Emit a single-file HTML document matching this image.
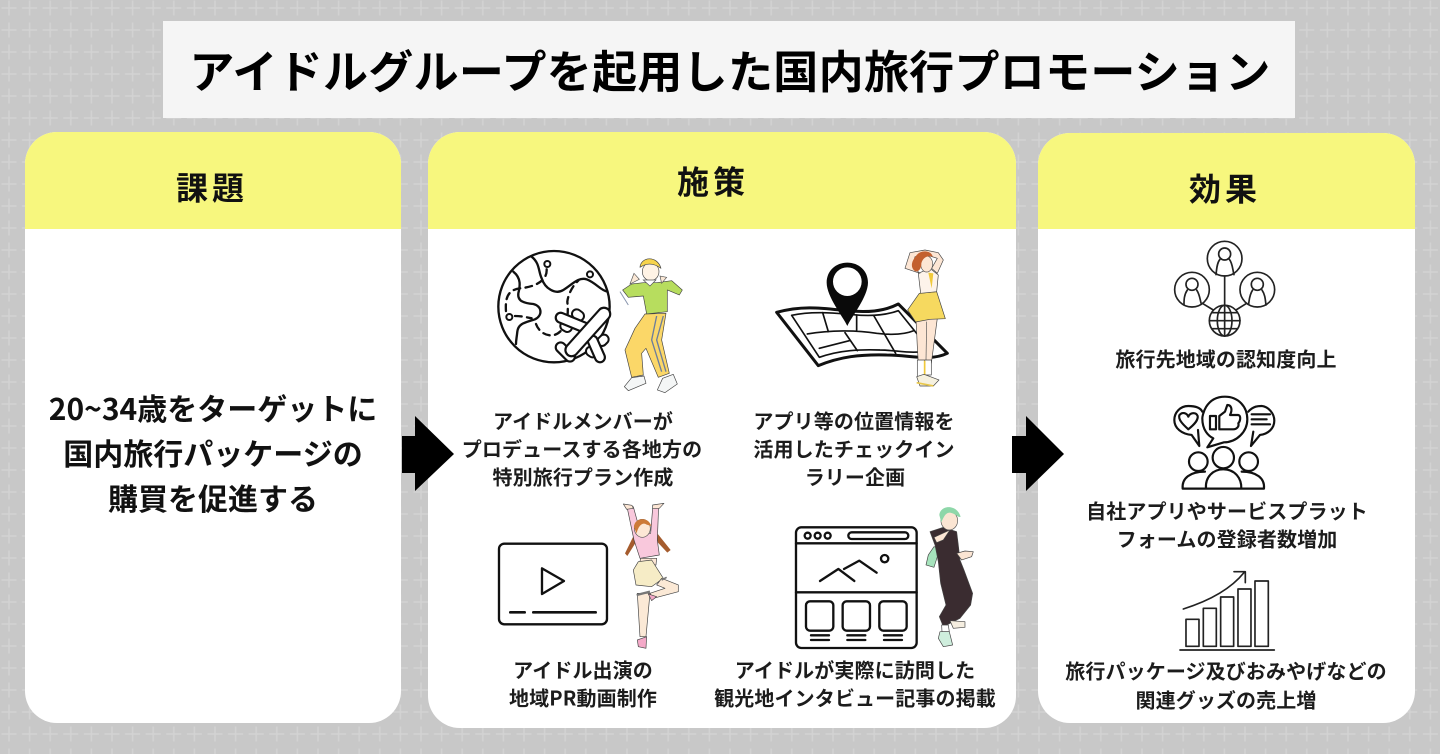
<!DOCTYPE html>
<html lang="ja"><head><meta charset="utf-8"><title>アイドルグループを起用した国内旅行プロモーション</title>
<style>
html,body{margin:0;padding:0;background:#c8c8c8}
svg{display:block;filter:blur(.35px)}
text{font-family:"Liberation Sans","Noto Sans CJK JP",sans-serif;font-weight:700;text-anchor:middle;dominant-baseline:central;fill:#111}
.jp{font-family:"Noto Sans CJK JP","Liberation Sans",sans-serif}
.s{font-size:20px;fill:#1c1c1c;letter-spacing:.12px}
.i{fill:none;stroke:#111;stroke-width:7;stroke-linecap:round;stroke-linejoin:round}
.t{fill:none;stroke:#222;stroke-width:5;stroke-linecap:round;stroke-linejoin:round}
.p{stroke:#444;stroke-width:2;stroke-linejoin:round}
.bk{fill:none;stroke:#111;stroke-linecap:round}
.wh{fill:none;stroke:#fff;stroke-linecap:round}
</style></head><body>
<svg width="1440" height="754" viewBox="0 0 1440 754" xmlns="http://www.w3.org/2000/svg">
<defs>
<pattern id="g" width="20.6" height="22" patternUnits="userSpaceOnUse" patternTransform="translate(-1.3 -3)">
<path d="M2.8 11H17.8M10.3 3.5V18.5" stroke="#d3d3d3" stroke-width="1.4"/>
</pattern>
<clipPath id="c1"><rect x="25" y="132" width="376" height="591" rx="32"/></clipPath>
<clipPath id="c2"><rect x="428" y="132" width="588" height="596" rx="32"/></clipPath>
<clipPath id="c3"><rect x="1038" y="133" width="377" height="590" rx="32"/></clipPath>
</defs>
<rect width="1440" height="754" fill="#c8c8c8"/>
<rect width="1440" height="754" fill="url(#g)"/>

<rect x="163" y="21" width="1132" height="97" fill="#f5f5f5"/>
<text class="jp" x="730" y="68.5" font-size="45" letter-spacing=".3" style="fill:#000">アイドルグループを起用した国内旅行プロモーション</text>

<!-- panels -->
<g clip-path="url(#c1)"><rect x="25" y="132" width="376" height="591" fill="#fff"/><rect x="25" y="132" width="376" height="97" fill="#f7f77e"/></g>
<g clip-path="url(#c2)"><rect x="428" y="132" width="588" height="596" fill="#fff"/><rect x="428" y="132" width="588" height="97" fill="#f7f77e"/></g>
<g clip-path="url(#c3)"><rect x="1038" y="133" width="377" height="590" fill="#fff"/><rect x="1038" y="133" width="377" height="96" fill="#f7f77e"/></g>

<text class="jp" x="212" y="186.5" font-size="32" letter-spacing="4">課題</text>
<text class="jp" x="713" y="180.5" font-size="32" letter-spacing="4">施策</text>
<text class="jp" x="1225" y="187.5" font-size="32" letter-spacing="4">効果</text>

<text class="jp" x="213" y="407" font-size="30">20~34歳をターゲットに</text>
<text class="jp" x="213" y="452" font-size="30">国内旅行パッケージの</text>
<text class="jp" x="213" y="497" font-size="30">購買を促進する</text>

<!-- arrows -->
<path d="M402 436H415V416L454 454L415 491V473H402Z" fill="#000"/>
<path d="M1012 436H1026V416L1064 454L1026 491V473H1012Z" fill="#000"/>

<!-- labels -->
<g>
<text class="s jp" x="583" y="420">アイドルメンバーが</text>
<text class="s jp" x="582" y="448">プロデュースする各地方の</text>
<text class="s jp" x="583" y="476">特別旅行プラン作成</text>
<text class="s jp" x="854" y="420">アプリ等の位置情報を</text>
<text class="s jp" x="854" y="448">活用したチェックイン</text>
<text class="s jp" x="855" y="476">ラリー企画</text>
<text class="s jp" x="583" y="669">アイドル出演の</text>
<text class="s jp" x="583" y="697">地域PR動画制作</text>
<text class="s jp" x="855" y="669">アイドルが実際に訪問した</text>
<text class="s jp" x="855" y="697">観光地インタビュー記事の掲載</text>
<text class="s jp" x="1226" y="358">旅行先地域の認知度向上</text>
<text class="s jp" x="1227" y="510">自社アプリやサービスプラット</text>
<text class="s jp" x="1227" y="538">フォームの登録者数増加</text>
<text class="s jp" x="1226" y="670">旅行パッケージ及びおみやげなどの</text>
<text class="s jp" x="1226" y="699">関連グッズの売上増</text>
</g>

<!-- globe + person 1 -->
<g transform="translate(430 240) scale(.3333)">
<circle class="i" cx="372" cy="200" r="167"/>
<path class="i" d="M305 50C330 70 325 95 335 115C345 145 375 165 400 150C425 135 445 110 470 118C500 130 510 150 532 155"/>
<path class="i" d="M250 95C275 115 270 140 265 160C262 185 285 190 310 192C335 198 340 225 315 238C285 248 265 250 262 275C260 295 258 300 258 312"/>
<path class="i" stroke-dasharray="20 16" d="M350 88C352 120 320 140 270 145C235 150 225 170 228 215"/>
<path class="i" stroke-dasharray="20 16" d="M255 228C275 228 290 232 305 235"/>
<path class="i" stroke-dasharray="20 16" d="M318 252C330 285 370 300 395 270C415 245 415 215 412 185C415 160 430 135 445 122"/>
<circle cx="352" cy="72" r="9" fill="#fff" stroke="#111" stroke-width="6"/>
<circle cx="480" cy="103" r="9" fill="#fff" stroke="#111" stroke-width="6"/>
<circle cx="238" cy="231" r="9" fill="#fff" stroke="#111" stroke-width="6"/>
<!-- plane -->
<g>
<path class="bk" stroke-width="34" d="M440 222L448 228M405 258L412 262M522 298L516 304M482 334L488 338"/>
<path class="wh" stroke-width="22" d="M440 222L448 228M405 258L412 262M522 298L516 304M482 334L488 338"/>
<path class="bk" stroke-width="36" d="M392 233L462 262M488 302L510 352M392 322L420 350"/>
<path class="wh" stroke-width="23" d="M392 233L462 262M488 302L510 352M392 322L420 350"/>
<path class="bk" stroke-width="44" d="M522 222L425 330"/>
<path class="wh" stroke-width="31" d="M522 222L425 330"/>
</g>
<path class="p" fill="#b7dd5e" d="M640 128L680 128L725 122L757 150L748 165L712 150L712 215L650 222L640 168L595 172L578 150L605 132Z"/>
<path class="p" fill="#fbd768" d="M645 222L708 220L695 300L718 400L685 412L648 325L635 340L640 405L605 412L585 330L615 265Z"/>
<path d="M680 228L665 300L695 395M700 228L680 300L708 395" stroke="#6c7d9b" stroke-width="4" fill="none"/>
<ellipse cx="662" cy="95" rx="25" ry="27" fill="#fff3e5" stroke="#444" stroke-width="2"/>
<path class="p" fill="#f7d44d" d="M630 82C632 50 682 45 693 85C670 68 650 68 630 82Z"/>
<path d="M640 120L660 138L678 120Z" fill="#fff" stroke="#555" stroke-width="2"/>
<path d="M600 132L612 100L628 118ZM695 130L690 108L710 112Z" fill="#fbe8d6" stroke="#555" stroke-width="2"/>
<path class="p" fill="#f4f6f6" d="M583 440L605 413L642 408L648 430L595 452Z"/>
<path class="p" fill="#f4f6f6" d="M682 450L698 415L730 403L742 432L705 458Z"/>
<path d="M570 155L595 195" stroke="#8895ad" stroke-width="3"/>
</g>

<!-- map + person 2 -->
<g transform="translate(730 240) scale(.3333)">
<path fill="#fff" stroke="#111" stroke-width="9" stroke-linejoin="round" d="M140 217C220 195 280 205 350 212C410 218 460 215 505 192L652 340C600 365 540 345 470 345C390 343 330 350 265 377Z"/>
<path class="i" style="stroke-width:5" d="M185 226C250 212 320 220 370 224C430 230 470 225 505 212L600 330C550 345 500 330 450 330C390 328 330 330 268 352Z"/>
<path class="i" style="stroke-width:5" d="M278 218L295 275M380 225V272M432 228L497 340M345 278L382 332M232 282C300 270 380 270 440 280C480 285 520 285 552 272M268 325L358 302"/>
<path fill="#0a0a0a" d="M352 258C340 232 290 170 290 128C290 92 318 68 352 68C386 68 414 92 414 128C414 170 364 232 352 258Z"/>
<circle cx="352" cy="125" r="43" fill="#fff"/>
<path class="p" fill="#fde6d4" d="M558 235H622L612 310L604 370H565L562 320Z"/>
<path d="M590 245L588 365" stroke="#555" stroke-width="2"/>
<path class="p" fill="#fff" d="M562 360H584V412H562ZM584 360H604V405H584Z"/>
<path d="M584 362V405" stroke="#f0c93b" stroke-width="5"/>
<path class="p" fill="#f6d95f" d="M568 160L620 155L646 236L600 238L557 246L533 210Z"/>
<path class="p" fill="#fdf3ea" d="M565 100L600 85L625 105L620 155L572 160Z"/>
<path d="M595 98L605 145L610 100Z" fill="#f0c93b"/>
<path class="p" fill="#fde6d4" d="M570 100L525 85L540 38L585 30L625 38L640 60L622 100L605 85L622 55L590 45L555 50L548 80Z"/>
<ellipse cx="590" cy="72" rx="18" ry="24" fill="#fde6d4" stroke="#555" stroke-width="2"/>
<path fill="#c3602f" d="M558 48C570 28 605 30 608 50C590 45 578 55 574 70C575 85 565 100 553 92C540 80 546 62 558 48Z"/>
<path class="p" fill="#f6f1df" d="M560 410L582 403L627 420L610 438L570 438Z"/>
<path d="M560 428L610 438" stroke="#e8c74a" stroke-width="5"/>
</g>

<!-- video + person 3 -->
<g transform="translate(430 490) scale(.3333)">
<rect class="i" x="207" y="161" width="324" height="242" rx="16"/>
<path class="i" d="M336 235L402 273L336 312Z"/>
<path class="i" d="M241 367H284M310 367H497" style="stroke-width:8"/>
<path fill="#a55c2e" d="M612 135L585 190L592 198L622 150ZM682 130L722 180L712 188L672 145Z"/>
<path class="p" fill="#f9c8dc" d="M592 55L610 50L632 130L662 130L668 55L686 50L682 150L688 195L630 205L612 150Z"/>
<path class="p" fill="#fde7d5" d="M580 42L606 46L610 55L590 58ZM668 45L702 40L688 55L668 56Z"/>
<ellipse cx="637" cy="115" rx="24" ry="27" fill="#fde7d5" stroke="#555" stroke-width="2"/>
<path fill="#cd7a38" d="M612 112C612 82 655 78 664 108L650 104C640 95 625 105 620 130Z"/>
<path class="p" fill="#fde7d5" d="M632 205H680L678 225H628Z"/>
<path class="p" fill="#f6ecc6" d="M625 215L665 210L700 265L665 290L618 285L610 240Z"/>
<path class="p" fill="#fbe9d6" d="M695 265L745 285L745 305L670 325L660 310L705 295L680 285Z"/>
<path class="p" fill="#fbe9d6" d="M622 310L660 310L648 440L630 440Z"/>
<path class="p" fill="#f4a9c8" d="M622 450L650 440L648 475L625 470ZM655 312L680 320L665 332Z"/>
<path d="M620 315L660 305" stroke="#777" stroke-width="7"/>
<path d="M695 270L710 262" stroke="#777" stroke-width="5"/>
</g>

<!-- browser + person 4 -->
<g transform="translate(730 490) scale(.3333)">
<rect class="i" x="198" y="112" width="362" height="362" rx="16"/>
<path class="i" d="M198 160H560M198 307H560"/>
<circle class="i" cx="233" cy="137" r="9"/><circle class="i" cx="263" cy="137" r="9"/><circle class="i" cx="293" cy="137" r="9"/>
<rect class="i" x="355" y="127" width="180" height="20" rx="10"/>
<circle class="i" cx="464" cy="206" r="11"/>
<path class="i" d="M270 273L325 237L373 273M342 237L388 212L440 248"/>
<rect class="i" x="228" y="334" width="82" height="88" rx="12"/>
<rect class="i" x="338" y="334" width="82" height="88" rx="12"/>
<rect class="i" x="448" y="334" width="82" height="88" rx="12"/>
<path class="i" d="M243 436H297M243 450H297M352 436H406M352 450H406M462 436H516M462 450H516"/>
<path class="p" fill="#a6e3bc" d="M612 170L630 175L612 232L588 225L595 195Z"/>
<path class="p" fill="#3a2c30" d="M600 125L640 112L680 125L685 165L690 210L702 240L728 310L722 345L690 385L640 410L628 380L648 345L632 280L625 215L615 165Z"/>
<path class="p" fill="#f5eee0" d="M660 392L705 395L705 412L670 415Z"/>
<path class="p" fill="#fff" d="M635 405L655 405L658 425L636 425Z"/>
<path class="p" fill="#cfeedd" d="M630 425L658 425L668 465L640 470L625 445Z"/>
<path class="p" fill="#fbe5d3" d="M680 190L705 183L730 185L725 200L695 210Z"/>
<path class="p" fill="#fbe5d3" d="M612 142L660 120L640 150L620 158Z"/>
<ellipse cx="658" cy="92" rx="25" ry="28" fill="#fbe5d3" stroke="#555" stroke-width="2"/>
<path fill="#8ed7a9" d="M628 75C630 45 680 40 692 80C685 85 680 72 660 68C645 68 640 85 634 97Z"/>
</g>

<!-- column 3 icon 1 -->
<g transform="translate(1040 230) scale(.3333)">
<g class="t">
<circle cx="554" cy="86" r="52"/><circle cx="456" cy="179" r="52"/><circle cx="652" cy="179" r="52"/>
<circle cx="554" cy="272" r="46"/>
<path d="M554 138V226M487 220L520 240M620 220L588 240"/>
<ellipse cx="554" cy="272" rx="22" ry="46"/><path d="M508 272H600M516 248H592M516 296H592M554 226V318"/>
<circle cx="554" cy="72" r="18"/><path d="M540 88C530 100 530 120 528 134M568 88C578 100 578 120 582 134"/>
<circle cx="456" cy="163" r="18"/><path d="M442 180C432 195 432 210 432 225M470 180C480 195 480 210 484 222"/>
<circle cx="652" cy="163" r="18"/><path d="M638 180C628 195 628 210 626 222M666 180C676 195 676 210 678 225"/>
</g>
<!-- icon 2 -->
<g class="i" style="stroke-width:6.5">
<path d="M555 500C495 500 487 560 487 565C487 600 505 618 520 625L502 652L552 637C590 637 622 605 622 568C622 530 595 500 555 500Z"/>
<path d="M487 545C480 530 460 528 445 528C420 528 403 548 403 570C403 595 425 612 455 615L478 648L474 600"/>
<path d="M625 545C640 528 655 528 665 528C685 530 703 550 703 572C703 595 685 612 660 615L633 648L640 605"/>
<path d="M445 598C425 580 415 568 418 556C425 545 440 548 445 560C450 548 468 545 473 558C475 570 465 582 445 598Z"/>
<path d="M510 558H528V598H510ZM538 558L555 545L562 525C575 525 578 540 570 555H595C605 558 600 575 595 580C598 590 590 598 580 598H538Z"/>
<path d="M635 553H690M635 568H680M635 583H690"/>
<circle cx="475" cy="695" r="28"/><circle cx="550" cy="683" r="32"/><circle cx="626" cy="695" r="28"/>
<path d="M428 776C425 745 450 725 495 725M498 776C495 740 520 718 550 718C585 718 605 745 604 776H498ZM605 725C650 725 675 745 672 776H604M428 776H498"/>
</g>
</g>

<!-- icon 3 -->
<g transform="translate(1040 490) scale(.3333)">
<g class="t">
<rect x="438" y="388" width="39" height="81"/>
<rect x="490" y="355" width="39" height="114"/>
<rect x="542" y="321" width="39" height="148"/>
<rect x="594" y="297" width="39" height="172"/>
<rect x="645" y="273" width="40" height="196"/>
<path d="M420 480H703"/>
<path d="M430 357C500 335 570 300 612 248M582 245H616V278"/>
</g>
</g>
</svg>
</body></html>
